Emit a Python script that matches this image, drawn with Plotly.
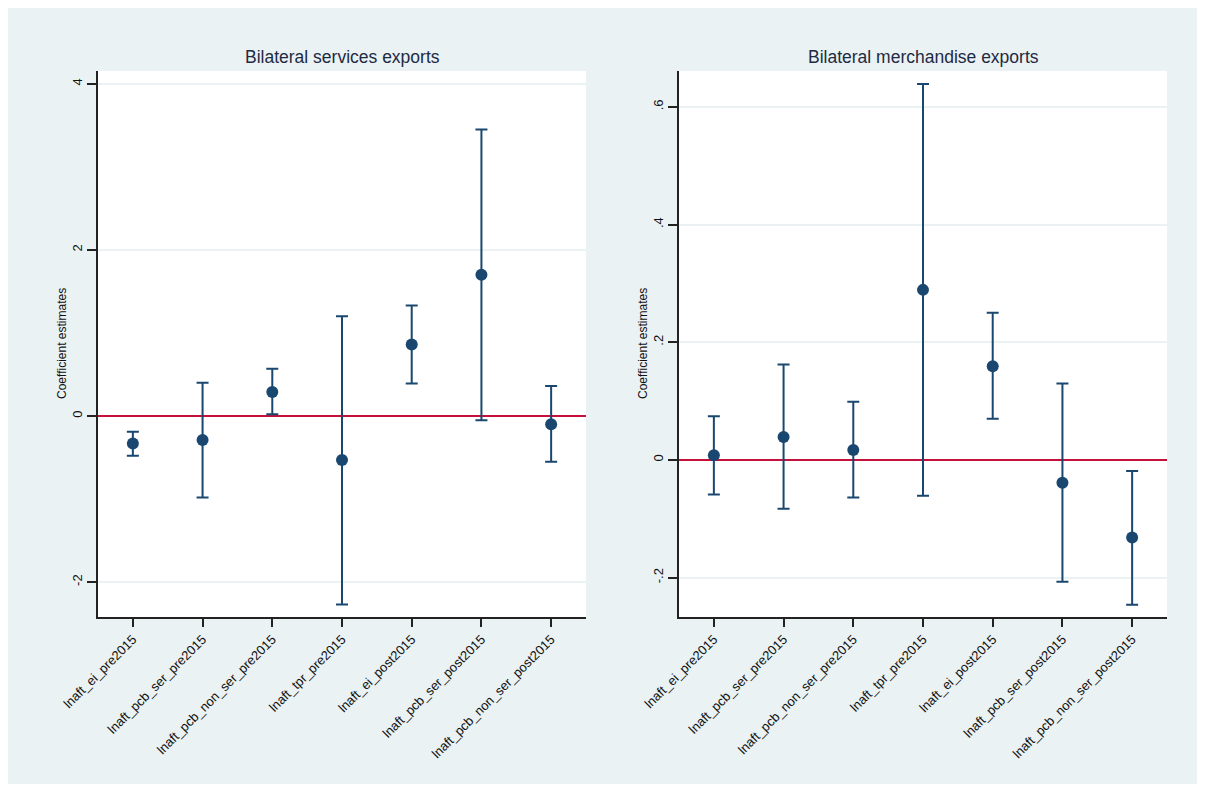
import plotly.graph_objects as go

categories = ["lnaft_ei_pre2015", "lnaft_pcb_ser_pre2015", "lnaft_pcb_non_ser_pre2015",
              "lnaft_tpr_pre2015", "lnaft_ei_post2015", "lnaft_pcb_ser_post2015",
              "lnaft_pcb_non_ser_post2015"]

# Bilateral services exports
serv_est = [-0.33, -0.29, 0.29, -0.53, 0.86, 1.70, -0.10]
serv_lo = [-0.48, -0.98, 0.02, -2.27, 0.39, -0.05, -0.55]
serv_hi = [-0.19, 0.40, 0.57, 1.20, 1.33, 3.45, 0.36]

# Bilateral merchandise exports
merch_est = [0.008, 0.039, 0.017, 0.289, 0.159, -0.039, -0.132]
merch_lo = [-0.059, -0.083, -0.064, -0.061, 0.070, -0.207, -0.246]
merch_hi = [0.074, 0.162, 0.099, 0.639, 0.250, 0.130, -0.019]

serv_ticks = [-2, 0, 2, 4]
serv_ticktext = ["-2", "0", "2", "4"]
merch_ticks = [-0.2, 0, 0.2, 0.4, 0.6]
merch_ticktext = ["-.2", "0", ".2", ".4", ".6"]

titles = ["Bilateral services exports", "Bilateral merchandise exports"]
ytitle = "Coefficient estimates"

NAVY = "#1a476f"
BG = "#eaf2f3"
FONT = "Liberation Sans, Arial, sans-serif"

W, H = 1190, 776
xpos = list(range(1, len(categories) + 1))

fig = go.Figure()

def add_panel(est, lo, hi, xa, ya):
    plus = [h - e for h, e in zip(hi, est)]
    minus = [e - l for e, l in zip(est, lo)]
    fig.add_trace(go.Scatter(
        x=xpos, y=est, mode="markers", xaxis=xa, yaxis=ya,
        marker=dict(color=NAVY, size=12),
        error_y=dict(type="data", array=plus, arrayminus=minus, symmetric=False,
                     color=NAVY, thickness=2, width=6),
        showlegend=False, hoverinfo="skip"))

add_panel(serv_est, serv_lo, serv_hi, "x", "y")
add_panel(merch_est, merch_lo, merch_hi, "x2", "y2")

def px_x(v):
    return v / W

def px_y(v):
    return 1 - v / H

ydom = [px_y(609), px_y(63)]
xdom1 = [px_x(90), px_x(578)]
xdom2 = [px_x(671), px_x(1159)]

xcommon = dict(tickvals=xpos, ticktext=categories, range=[0.5, 7.5], tickangle=-45,
               showline=True, linecolor="#222222", linewidth=1.5, mirror=False,
               ticks="outside", ticklen=8, tickwidth=1.5, tickcolor="#222222",
               showgrid=False, zeroline=False, automargin=False,
               tickfont=dict(family=FONT, size=13, color="#111111"))
ycommon = dict(tickangle=-90, showline=True, linecolor="#222222", linewidth=1.5,
               ticks="outside", ticklen=9, tickwidth=1.5, tickcolor="#222222",
               showgrid=True, gridcolor=BG, gridwidth=1.5,
               zeroline=True, zerolinecolor="#c4103b", zerolinewidth=1.5,
               automargin=False,
               tickfont=dict(family=FONT, size=13, color="#111111"))

fig.update_layout(
    width=W, height=H,
    margin=dict(l=0, r=0, t=0, b=0, pad=0),
    paper_bgcolor=BG, plot_bgcolor="white",
    font=dict(family=FONT),
    xaxis=dict(domain=xdom1, anchor="y", **xcommon),
    xaxis2=dict(domain=xdom2, anchor="y2", **xcommon),
    yaxis=dict(domain=ydom, anchor="x", range=[-2.42, 4.153],
               tickvals=serv_ticks, ticktext=serv_ticktext, **ycommon),
    yaxis2=dict(domain=ydom, anchor="x2", range=[-0.267, 0.661],
                tickvals=merch_ticks, ticktext=merch_ticktext, **ycommon),
)

annotations = []
for t, cx in zip(titles, [334, 915]):
    annotations.append(dict(text=t, x=px_x(cx), y=px_y(49), xref="paper", yref="paper",
                            xanchor="center", yanchor="middle", showarrow=False,
                            font=dict(family=FONT, size=17.5, color="#1f2a44")))
for cx in [54, 635]:
    annotations.append(dict(text=ytitle, x=px_x(cx), y=(ydom[0] + ydom[1]) / 2,
                            xref="paper", yref="paper", textangle=-90,
                            xanchor="center", yanchor="middle", showarrow=False,
                            font=dict(family=FONT, size=12, color="#111111")))
fig.update_layout(annotations=annotations)

fig.write_html("out.html")
